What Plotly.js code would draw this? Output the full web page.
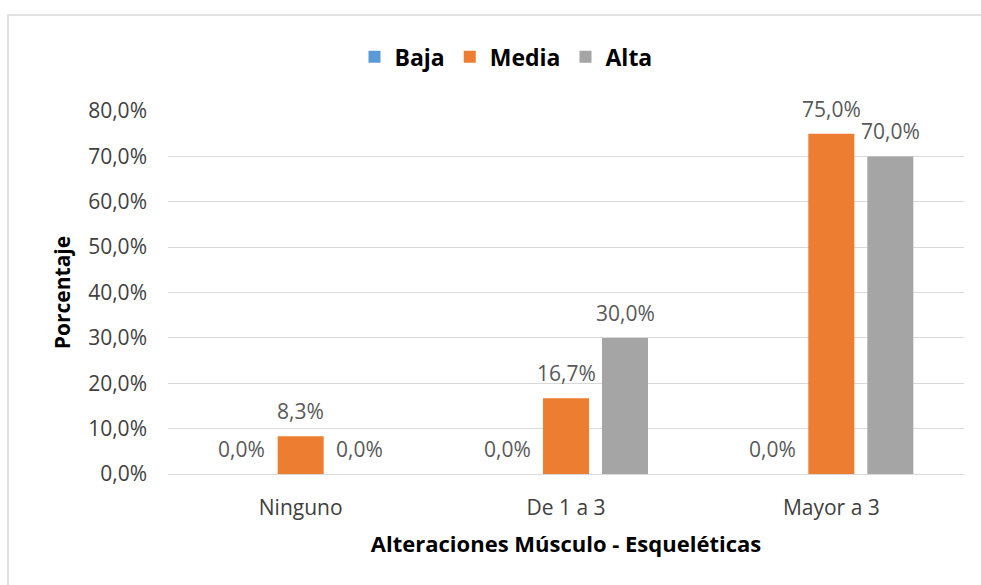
<!DOCTYPE html>
<html>
<head>
<meta charset="utf-8">
<script src="https://cdn.plot.ly/plotly-3.0.1.min.js"></script>
<style>html,body{margin:0;padding:0;background:#fff;}#chart{width:981px;height:585px;}</style>
</head>
<body>
<div id="chart"></div>
<script>
const categories = ["Ninguno", "De 1 a 3", "Mayor a 3"];
const seriesNames = ["Baja", "Media", "Alta"];
const baja = [0.0, 0.0, 0.0];
const media = [8.3, 16.7, 75.0];
const alta = [0.0, 30.0, 70.0];
const colors = ["#5B9BD5", "#ED7D31", "#A5A5A5"];
const FONT = "'Open Sans', sans-serif";

const allSeries = [baja, media, alta];
const traces = allSeries.map((vals, i) => ({
  type: "bar",
  name: seriesNames[i],
  x: categories,
  y: vals,
  marker: { color: colors[i] },
  hoverinfo: "x+y+name"
}));

const annotations = [];
const slot = 59;
allSeries.forEach((vals, i) => {
  vals.forEach((v, j) => {
    annotations.push({
      x: categories[j], y: v, xref: "x", yref: "y",
      text: v.toFixed(1).replace(".", ",") + "%",
      showarrow: false, xanchor: "center", yanchor: "middle",
      xshift: (i - 1) * slot, yshift: 25,
      font: { family: FONT, size: 21, color: "#595959" }
    });
  });
});

const layout = {
  width: 981, height: 585,
  margin: { l: 168, r: 17, t: 111, b: 111 },
  paper_bgcolor: "#ffffff", plot_bgcolor: "#ffffff",
  separators: ",.",
  barmode: "group",
  bargap: 0.333,
  bargroupgap: 0.22,
  font: { family: FONT, color: "#404040" },
  showlegend: true,
  legend: {
    orientation: "h", x: 0.4246, xanchor: "center", y: 1.149, yanchor: "middle",
    font: { family: FONT, size: 23, color: "#000000", weight: "bold" },
    itemwidth: 30, traceorder: "normal"
  },
  xaxis: {
    type: "category",
    showgrid: false, showline: false, ticks: "",
    ticklabelstandoff: 19,
    tickfont: { family: FONT, size: 21, color: "#404040" },
    title: { text: "<b>Alteraciones Músculo - Esqueléticas</b>", font: { family: FONT, size: 22, color: "#000000" }, standoff: 16 }
  },
  yaxis: {
    range: [0, 80], dtick: 10,
    tickformat: ".1f", ticksuffix: "%",
    showgrid: true, gridcolor: "#d9d9d9", gridwidth: 1.3,
    zeroline: true, zerolinecolor: "#d9d9d9", zerolinewidth: 1.3,
    showline: false, ticks: "",
    ticklabelstandoff: 20,
    tickfont: { family: FONT, size: 21, color: "#404040" },
    title: { text: "<b>Porcentaje</b>", font: { family: FONT, size: 21, color: "#000000" }, standoff: 11 }
  },
  annotations: annotations,
  shapes: [{
    type: "rect", xref: "paper", yref: "paper",
    x0: -0.201, x1: 1.04, y0: -0.4, y1: 1.2645,
    line: { color: "#d9d9d9", width: 1.5 }, fillcolor: "rgba(0,0,0,0)", layer: "below"
  }]
};

Plotly.newPlot("chart", traces, layout, { displayModeBar: false, responsive: false });
</script>
</body>
</html>
